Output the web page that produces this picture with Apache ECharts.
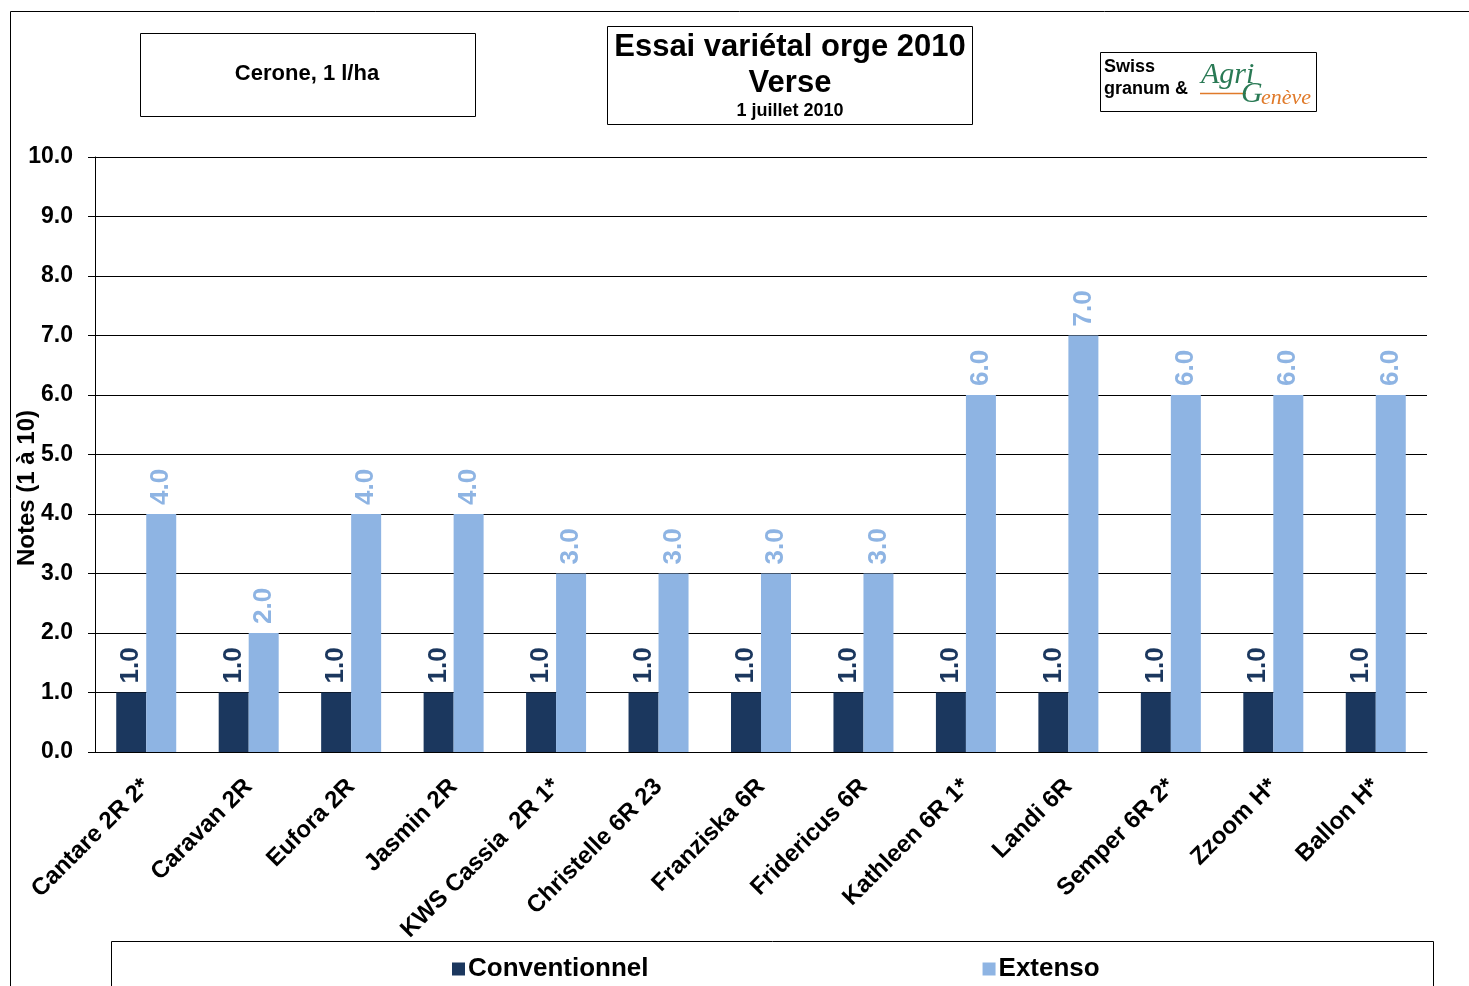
<!DOCTYPE html>
<html>
<head>
<meta charset="utf-8">
<script src="https://cdn.jsdelivr.net/npm/echarts@6/dist/echarts.min.js"></script>
<style>
  html, body { margin: 0; padding: 0; background: #fff; }
  #chart { width: 1469px; height: 986px; }
</style>
</head>
<body>
<div id="chart"></div>
<script>
// variétés
const varieties = [
  'Cantare 2R 2*', 'Caravan 2R', 'Eufora 2R', 'Jasmin 2R', 'KWS Cassia  2R 1*',
  'Christelle 6R 23', 'Franziska 6R', 'Fridericus 6R', 'Kathleen 6R 1*',
  'Landi 6R', 'Semper 6R 2*', 'Zzoom H*', 'Ballon H*'
];
const seriesNames = ['Conventionnel', 'Extenso'];
const conventionnel = [1, 1, 1, 1, 1, 1, 1, 1, 1, 1, 1, 1, 1];
const extenso = [4, 2, 4, 4, 3, 3, 3, 3, 6, 7, 6, 6, 6];
const yTicks = [0, 1, 2, 3, 4, 5, 6, 7, 8, 9, 10];

const darkBlue = '#1b375e';
const lightBlue = '#8eb4e3';
const font = 'Arial, "Liberation Sans", sans-serif';

const chart = echarts.init(document.getElementById('chart'));

const barLabel = (color) => ({
  show: true,
  position: 'top',
  rotate: 90,
  align: 'left',
  verticalAlign: 'middle',
  distance: 9,
  color: color,
  fontFamily: font,
  fontWeight: 'bold',
  fontSize: 26,
  formatter: (p) => p.value.toFixed(1)
});

chart.setOption({
  animation: false,
  grid: { left: 95, right: 42, top: 157, bottom: 234 },
  legend: {
    left: 447,
    top: 951,
    itemGap: 334,
    itemWidth: 13,
    itemHeight: 13,
    icon: 'rect',
    textStyle: { fontFamily: font, fontWeight: 'bold', fontSize: 26, color: '#000', padding: [0, 0, 0, -2] },
    data: seriesNames
  },
  xAxis: {
    type: 'category',
    data: varieties,
    axisLine: { lineStyle: { color: '#000', width: 1 } },
    axisTick: { length: 6, lineStyle: { color: '#000' } },
    axisLabel: {
      rotate: 45,
      interval: 0,
      margin: 31,
      fontFamily: font,
      fontWeight: 'bold',
      fontSize: 24,
      color: '#000'
    }
  },
  yAxis: {
    type: 'value',
    min: yTicks[0],
    max: yTicks[yTicks.length - 1],
    interval: 1,
    axisLine: { show: true, lineStyle: { color: '#000' } },
    axisTick: { show: true, length: 7, lineStyle: { color: '#000' } },
    splitLine: { lineStyle: { color: '#000', width: 1 } },
    axisLabel: {
      margin: 22,
      fontFamily: font,
      fontWeight: 'bold',
      fontSize: 23,
      color: '#000',
      formatter: (v) => v.toFixed(1)
    }
  },
  series: [
    {
      name: seriesNames[0],
      type: 'bar',
      data: conventionnel,
      barWidth: 30,
      barGap: '0%',
      itemStyle: { color: darkBlue },
      label: barLabel(darkBlue)
    },
    {
      name: seriesNames[1],
      type: 'bar',
      data: extenso,
      barWidth: 30,
      barGap: '0%',
      itemStyle: { color: lightBlue },
      label: barLabel(lightBlue)
    }
  ],
  graphic: [
    // cadre extérieur
    { type: 'polyline', shape: { points: [[10.5, 986], [10.5, 11.5], [1469, 11.5]] }, style: { stroke: '#000', lineWidth: 1, fill: null } },
    // boîte légende
    { type: 'polyline', shape: { points: [[111.5, 986], [111.5, 941.5], [1433.5, 941.5], [1433.5, 986]] }, style: { stroke: '#000', lineWidth: 1, fill: null } },
    // boîte Cerone
    { type: 'rect', shape: { x: 140.5, y: 33.5, width: 335, height: 83 }, style: { stroke: '#000', lineWidth: 1, fill: '#fff' } },
    { type: 'text', x: 307, y: 74, style: { text: 'Cerone, 1 l/ha', font: 'bold 22px ' + font, fill: '#000', align: 'center', verticalAlign: 'middle' } },
    // boîte titre
    { type: 'rect', shape: { x: 607.5, y: 26.5, width: 365, height: 98 }, style: { stroke: '#000', lineWidth: 1, fill: '#fff' } },
    { type: 'text', x: 790, y: 47, style: { text: 'Essai variétal orge 2010', font: 'bold 31px ' + font, fill: '#000', align: 'center', verticalAlign: 'middle' } },
    { type: 'text', x: 790, y: 83, style: { text: 'Verse', font: 'bold 31px ' + font, fill: '#000', align: 'center', verticalAlign: 'middle' } },
    { type: 'text', x: 790, y: 111, style: { text: '1 juillet 2010', font: 'bold 18px ' + font, fill: '#000', align: 'center', verticalAlign: 'middle' } },
    // boîte logo
    { type: 'rect', shape: { x: 1100.5, y: 52.5, width: 216, height: 59 }, style: { stroke: '#000', lineWidth: 1, fill: '#fff' } },
    { type: 'text', x: 1104, y: 67, style: { text: 'Swiss', font: 'bold 18px ' + font, fill: '#000', verticalAlign: 'middle' } },
    { type: 'text', x: 1104, y: 89, style: { text: 'granum &', font: 'bold 18px ' + font, fill: '#000', verticalAlign: 'middle' } },
    { type: 'text', x: 1201, y: 75, style: { text: 'Agri', font: 'italic 30px "Liberation Serif", "DejaVu Serif", serif', fill: '#2a7a55', verticalAlign: 'middle' } },
    { type: 'line', shape: { x1: 1200, y1: 93.5, x2: 1246, y2: 93.5 }, style: { stroke: '#e07a2a', lineWidth: 1.5 } },
    { type: 'text', x: 1241, y: 94, style: { text: 'G', font: 'italic 30px "Liberation Serif", "DejaVu Serif", serif', fill: '#2a7a55', verticalAlign: 'middle' } },
    { type: 'text', x: 1261, y: 98, style: { text: 'enève', font: 'italic 22px "Liberation Serif", "DejaVu Serif", serif', fill: '#e07a2a', verticalAlign: 'middle' } },
    // titre axe Y
    { type: 'text', x: 27, y: 488, rotation: Math.PI / 2, style: { text: 'Notes (1 à 10)', font: 'bold 24px ' + font, fill: '#000', align: 'center', verticalAlign: 'middle' } }
  ]
});
</script>
</body>
</html>
